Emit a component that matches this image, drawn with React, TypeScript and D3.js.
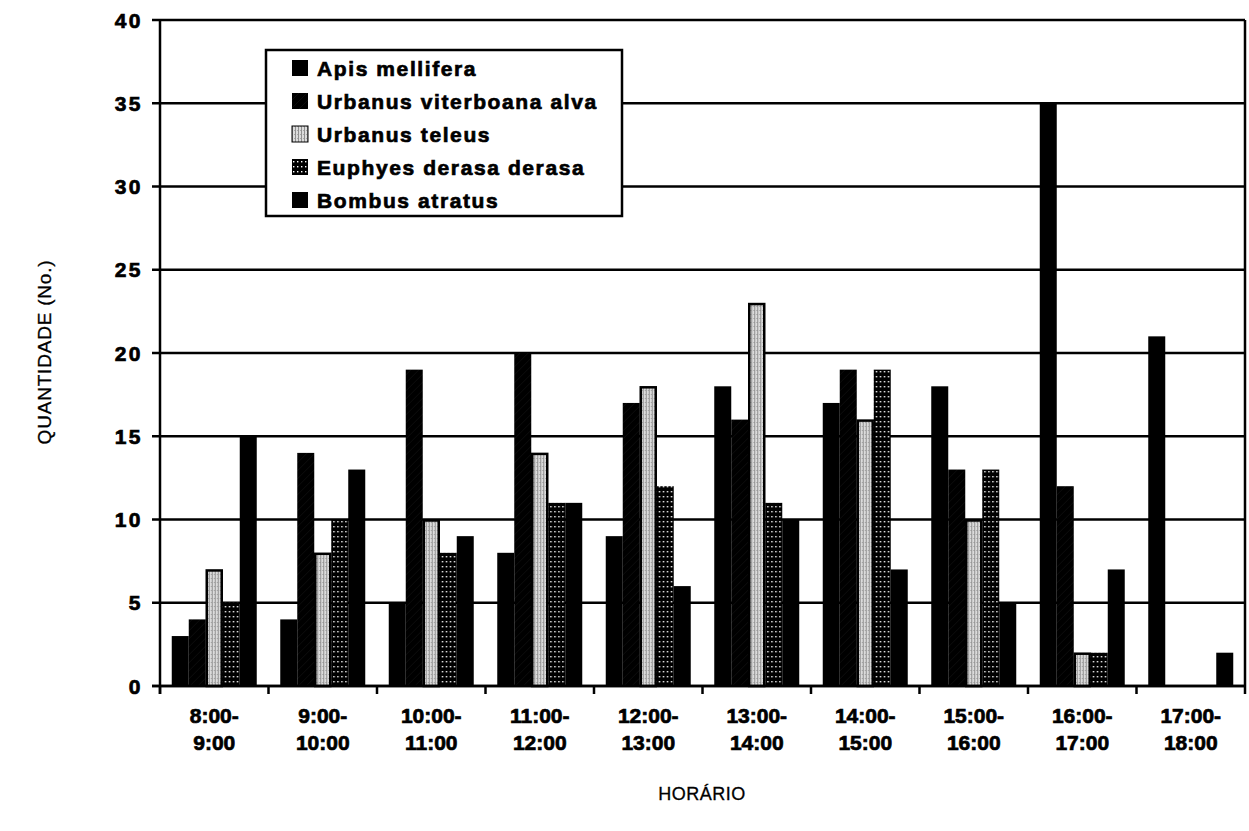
import React from "react";
import * as d3 from "d3";

const categories = [
  ["8:00-", "9:00"],
  ["9:00-", "10:00"],
  ["10:00-", "11:00"],
  ["11:00-", "12:00"],
  ["12:00-", "13:00"],
  ["13:00-", "14:00"],
  ["14:00-", "15:00"],
  ["15:00-", "16:00"],
  ["16:00-", "17:00"],
  ["17:00-", "18:00"],
];

const seriesNames = [
  "Apis mellifera",
  "Urbanus viterboana alva",
  "Urbanus teleus",
  "Euphyes derasa derasa",
  "Bombus atratus",
];

const apisMellifera = [3, 4, 5, 8, 9, 18, 17, 18, 35, 21];
const urbanusViterboanaAlva = [4, 14, 19, 20, 17, 16, 19, 13, 12, 0];
const urbanusTeleus = [7, 8, 10, 14, 18, 23, 16, 10, 2, 0];
const euphyesDerasaDerasa = [5, 10, 8, 11, 12, 11, 19, 13, 2, 0];
const bombusAtratus = [15, 13, 9, 11, 6, 10, 7, 5, 7, 2];

const yTicks = [0, 5, 10, 15, 20, 25, 30, 35, 40];

const seriesValues = [
  apisMellifera,
  urbanusViterboanaAlva,
  urbanusTeleus,
  euphyesDerasaDerasa,
  bombusAtratus,
];

const fills = [
  "#000",
  "url(#patUV)",
  "url(#patTeleus)",
  "url(#patEuph)",
  "#000",
];

const W = 1249;
const H = 831;
const left = 160;
const right = 1245;
const top = 20;
const bottom = 686;

const FONT = "'Liberation Sans', Arial, Helvetica, sans-serif";

export default function App() {
  const y = d3.scaleLinear().domain([0, 40]).range([bottom, top]);
  const x0 = d3
    .scaleBand<number>()
    .domain(d3.range(categories.length))
    .range([left, right])
    .paddingInner(0.2166)
    .paddingOuter(0.1083);
  const x1 = d3
    .scaleBand<number>()
    .domain(d3.range(seriesNames.length))
    .range([0, x0.bandwidth()])
    .padding(0);
  const step = x0.step();
  const boundaries = d3.range(categories.length + 1).map((i) => left + i * step);

  const legendX = 266;
  const legendY = 50;
  const legendW = 356;
  const legendH = 166;
  const rowY = (i: number) => 68 + i * 33;

  const heavy = { stroke: "#000", strokeWidth: 0.7 };

  return (
    <svg
      width={W}
      height={H}
      style={{ position: "absolute", left: 0, top: 0, background: "#fff" }}
      fontFamily={FONT}
    >
      <defs>
        <pattern id="patUV" width="8" height="8" patternUnits="userSpaceOnUse">
          <rect width="8" height="8" fill="#000" />
          <path d="M0,8 L8,0" stroke="#333" strokeWidth="0.5" opacity="0.5" />
        </pattern>
        <pattern id="patTeleus" width="3" height="4" patternUnits="userSpaceOnUse">
          <rect width="3" height="4" fill="#dcdcdc" />
          <rect x="1" width="1" height="4" fill="#909090" />
          <rect x="0" y="2" width="1" height="1" fill="#a8a8a8" />
        </pattern>
        <pattern id="patEuph" width="4" height="5" patternUnits="userSpaceOnUse">
          <rect width="4" height="5" fill="#000" />
          <rect x="1" y="1" width="1.4" height="1.4" fill="#fff" />
        </pattern>
      </defs>

      {/* gridlines */}
      {yTicks.map((t) => (
        <line
          key={"g" + t}
          x1={left - 8}
          x2={right}
          y1={y(t)}
          y2={y(t)}
          stroke="#000"
          strokeWidth={2.5}
        />
      ))}

      {/* bars */}
      {categories.map((_, ci) => (
        <g key={"c" + ci} transform={`translate(${x0(ci)},0)`}>
          {seriesValues.map((vals, si) => {
            const v = vals[ci];
            if (!v) return null;
            const isTeleus = si === 2;
            return (
              <rect
                key={"b" + si}
                x={(x1(si) as number) + (isTeleus ? 1 : 0)}
                y={y(v) + (isTeleus ? 1 : 0)}
                width={x1.bandwidth() - (isTeleus ? 2 : 0)}
                height={bottom - y(v) - (isTeleus ? 1 : 0)}
                fill={fills[si]}
                stroke={isTeleus ? "#000" : "none"}
                strokeWidth={isTeleus ? 2.5 : 0}
              />
            );
          })}
        </g>
      ))}

      {/* axes */}
      <line x1={left} x2={left} y1={top} y2={bottom + 8} stroke="#000" strokeWidth={2.5} />
      <line x1={right} x2={right} y1={top} y2={bottom} stroke="#000" strokeWidth={2.5} />
      <line x1={left - 8} x2={right} y1={bottom} y2={bottom} stroke="#000" strokeWidth={2.5} />
      {boundaries.map((bx, i) => (
        <line key={"t" + i} x1={bx} x2={bx} y1={bottom} y2={bottom + 8} stroke="#000" strokeWidth={2.5} />
      ))}

      {/* y tick labels */}
      {yTicks.map((t) => (
        <text
          key={"yl" + t}
          x={143}
          y={y(t) + 7.5}
          textAnchor="end"
          fontSize={21}
          fontWeight="bold"
          letterSpacing={2.5}
          {...heavy}
        >
          {t}
        </text>
      ))}

      {/* x tick labels */}
      {categories.map((lines, ci) => {
        const cx = (x0(ci) as number) + x0.bandwidth() / 2;
        return (
          <text
            key={"xl" + ci}
            textAnchor="middle"
            fontSize={21}
            fontWeight="bold"
            {...heavy}
          >
            <tspan x={cx} y={723}>{lines[0]}</tspan>
            <tspan x={cx} y={750}>{lines[1]}</tspan>
          </text>
        );
      })}

      {/* axis titles */}
      <text
        transform={`translate(51,352) rotate(-90)`}
        textAnchor="middle"
        fontSize={19}
        letterSpacing={0.8}
        stroke="#000"
        strokeWidth={0.3}
      >
        QUANTIDADE (No.)
      </text>
      <text
        x={702}
        y={800}
        textAnchor="middle"
        fontSize={18}
        letterSpacing={0.5}
        stroke="#000"
        strokeWidth={0.3}
      >
        HORÁRIO
      </text>

      {/* legend */}
      <rect
        x={legendX}
        y={legendY}
        width={legendW}
        height={legendH}
        fill="#fff"
        stroke="#000"
        strokeWidth={2.5}
      />
      {seriesNames.map((name, i) => (
        <g key={"lg" + i}>
          <rect
            x={292}
            y={rowY(i) - 8}
            width={16}
            height={16}
            fill={fills[i]}
            stroke={i === 2 ? "#000" : "none"}
            strokeWidth={1}
          />
          <text
            x={317}
            y={rowY(i) + 7.5}
            fontSize={21}
            fontWeight="bold"
            letterSpacing={1.6}
            {...heavy}
          >
            {name}
          </text>
        </g>
      ))}
    </svg>
  );
}
